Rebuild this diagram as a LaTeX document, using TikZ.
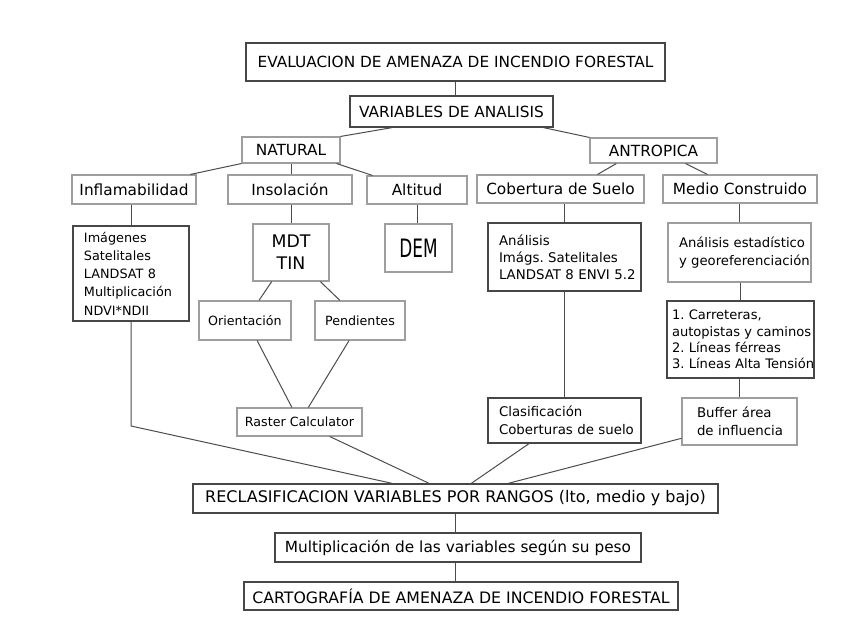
\documentclass[tikz,border=0pt]{standalone}
\usepackage{fontspec}
\setmainfont{DejaVu Sans}
\newfontfamily\condfont{DejaVu Sans Condensed}
\usetikzlibrary{calc}
\hyphenpenalty=10000
\exhyphenpenalty=10000

\tikzset{
  sz/.style 2 args={minimum width=#1*0.75pt, minimum height=#2*0.75pt},
  box/.style={draw=black!72, line width=0.9pt, inner sep=0pt, font=\fontsize{11.5}{14}\selectfont},
  lbox/.style={draw=black!38, line width=0.8pt, inner sep=0pt, font=\fontsize{11.5}{14}\selectfont},
  tiny/.style={font=\fontsize{9.5}{12}\selectfont},
  listing/.style 2 args={align=left, inner xsep=#1*0.75pt, text width=#2*0.75pt},
  link/.style={draw=black!70, line width=0.75pt},
}

\begin{document}
\begin{tikzpicture}[x=0.75pt,y=-0.75pt]
  \useasboundingbox (0,0) rectangle (858,630);
  % top of the tree
  \node[box, sz={419}{38}] (eval) at (455.5,62) {EVALUACION DE AMENAZA DE INCENDIO FORESTAL};
  \node[box, sz={203}{31}] (vars) at (451.5,111.5) {VARIABLES DE ANALISIS};
  \node[lbox, sz={98}{26}] (nat) at (291,150) {NATURAL};
  \node[lbox, sz={127}{25}] (antr) at (653.5,150.5) {ANTROPICA};
  % natural variables
  \node[lbox, sz={124}{29}] (infl) at (134,189.5) {Inflamabilidad};
  \node[lbox, sz={124}{29}] (insol) at (290,189.5) {Insolación};
  \node[lbox, sz={100}{28}] (alt) at (417,190) {Altitud};
  \node[box, sz={116}{95}, listing={11}{94}, font=\fontsize{9.6}{13.7}\selectfont] (img) at (131,273.5)
    {Imágenes\\Satelitales\\LANDSAT~8\\Multiplicación\\NDVI*NDII};
  \node[lbox, sz={76}{57}, align=center, font=\fontsize{13}{16.3}\selectfont] (mdt) at (291,252.5) {MDT\\TIN};
  \node[lbox, sz={67}{48}, font=\condfont\fontsize{19}{20}\selectfont] (dem) at (418.5,248) {\scalebox{0.74}[1]{DEM}};
  \node[lbox, sz={92}{39}, tiny] (ori) at (245,320.5) {Orientación};
  \node[lbox, sz={90}{39}, tiny] (pend) at (360,320.5) {Pendientes};
  \node[lbox, sz={125}{28}, tiny] (rast) at (299.5,422) {Raster Calculator};
  \coordinate (imgbend) at (131,426);
  % antropic variables
  \node[lbox, sz={167}{28}] (cob) at (560.5,189) {Cobertura de Suelo};
  \node[lbox, sz={154}{28}] (medio) at (740,189) {Medio Construido};
  \node[box, sz={153}{68}, listing={11}{131}, font=\fontsize{10}{12.75}\selectfont] (anal) at (564.5,257)
    {Análisis\\Imágs.~Satelitales\\LANDSAT~8~ENVI~5.2};
  \node[lbox, sz={143}{59}, listing={11}{121}, font=\fontsize{9.9}{13.5}\selectfont] (est) at (739.5,252.5)
    {Análisis~estadístico\\y~georeferenciación};
  \node[box, sz={147}{77}, listing={5}{137}, font=\fontsize{9.8}{12.2}\selectfont] (carr) at (740.5,339.5)
    {1.~Carreteras,\\autopistas~y~caminos\\2.~Líneas~férreas\\3.~Líneas~Alta~Tensión};
  \node[box, sz={153}{45}, listing={11}{131}, font=\fontsize{10}{13.5}\selectfont] (clas) at (564.5,420.5)
    {Clasificación\\Coberturas~de~suelo};
  \node[lbox, sz={115}{47}, listing={15}{85}, font=\fontsize{10}{13.5}\selectfont] (buf) at (739.5,421.5)
    {Buffer~área\\de~influencia};
  % bottom of the tree
  \node[box, sz={525}{29}, font=\fontsize{12}{14}\selectfont] (recl) at (455.5,498.5) {RECLASIFICACION VARIABLES POR RANGOS (lto, medio y bajo)};
  \node[box, sz={366}{29}] (mult) at (458,547.5) {Multiplicación de las variables según su peso};
  \node[box, sz={434}{28}, font=\fontsize{11.8}{14}\selectfont] (cart) at (461,596) {CARTOGRAFÍA DE AMENAZA DE INCENDIO FORESTAL};

  % connectors
  \draw[link] (eval.south) -- (eval.south |- vars.north);
  \draw[link] ($(vars.south west)!0.21!(vars.south east)$) -- (nat.north east);
  \draw[link] ($(vars.south west)!0.95!(vars.south east)$) -- (antr.north west);
  \draw[link] (nat.south west) -- ($(infl.north west)!0.95!(infl.north east)$);
  \draw[link] (nat.south) -- (nat.south |- insol.north);
  \draw[link] ($(nat.south west)!0.96!(nat.south east)$) -- ($(alt.north west)!0.06!(alt.north east)$);
  \draw[link] ($(antr.south west)!0.21!(antr.south east)$) -- ($(cob.north west)!0.72!(cob.north east)$);
  \draw[link] ($(antr.south west)!0.75!(antr.south east)$) -- ($(medio.north west)!0.29!(medio.north east)$);
  \draw[link] (img.north) -- (img.north |- infl.south);
  \draw[link] (insol.south -| mdt.north) -- (mdt.north);
  \draw[link] (alt.south) -- (alt.south |- dem.north);
  \draw[link] ($(mdt.south west)!0.25!(mdt.south east)$) -- ($(ori.north west)!0.65!(ori.north east)$);
  \draw[link] ($(mdt.south west)!0.88!(mdt.south east)$) -- ($(pend.north west)!0.28!(pend.north east)$);
  \draw[link] ($(ori.south west)!0.63!(ori.south east)$) -- ($(rast.north west)!0.44!(rast.north east)$);
  \draw[link] ($(pend.south west)!0.38!(pend.south east)$) -- ($(rast.north west)!0.57!(rast.north east)$);
  \draw[link] (img.south) -- (imgbend) -- ($(recl.north west)!0.38!(recl.north east)$);
  \draw[link] ($(rast.south west)!0.74!(rast.south east)$) -- ($(recl.north west)!0.45!(recl.north east)$);
  \draw[link] (anal.north) -- (anal.north |- cob.south);
  \draw[link] (medio.south -| est.north) -- (est.north);
  \draw[link] (est.south -| carr.north) -- (carr.north);
  \draw[link] (anal.south) -- (clas.north);
  \draw[link] (carr.south -| buf.north) -- (buf.north);
  \draw[link] ($(clas.south west)!0.27!(clas.south east)$) -- ($(recl.north west)!0.53!(recl.north east)$);
  \draw[link] ($(buf.north west)!0.85!(buf.south west)$) -- ($(recl.north west)!0.60!(recl.north east)$);
  \draw[link] (recl.south) -- (recl.south |- mult.north);
  \draw[link] (mult.south -| recl.south) -- (recl.south |- cart.north);
\end{tikzpicture}
\end{document}
